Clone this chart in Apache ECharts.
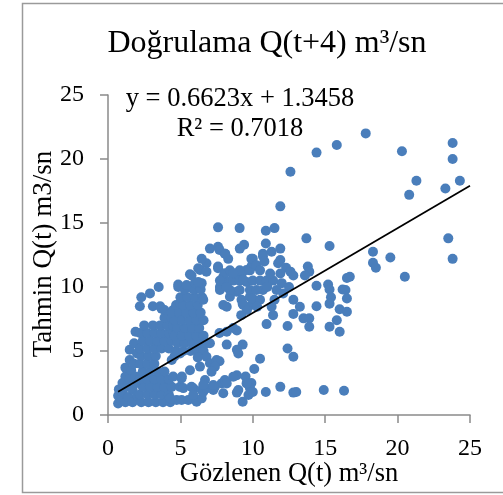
<!DOCTYPE html>
<html>
<head>
<meta charset="utf-8">
<script src="https://cdn.jsdelivr.net/npm/echarts@6/dist/echarts.min.js"></script>
<style>
  html, body { margin: 0; padding: 0; background: #fff; }
  #chart { width: 503px; height: 495px; }
</style>
</head>
<body>
<div id="chart"></div>
<script>
// Observed (x) vs predicted (y) discharge pairs, m³/sn
const lowFlows = [
  [0.7,0.9],[0.7,1.5],[0.75,2.0],[0.9,1.2],[1.0,1.8],[1.0,2.5],[1.2,1.0],[1.2,3.0],[1.2,3.7],[1.3,2.2],
  [1.4,1.4],[1.5,2.8],[1.5,4.3],[1.5,5.1],[1.6,3.5],[1.7,1.0],[1.7,2.0],[1.8,4.0],[1.8,5.6],[1.9,6.5],
  [1.9,3.0],[2.0,1.5],[2.0,4.8],[2.0,2.5],
  [2.3,1.0],[2.8,1.0],[3.3,1.0],[3.8,1.0],[4.3,1.0],
  [2.2,1.6],[2.7,1.6],[3.2,1.6],[3.7,1.6],[4.2,1.6],
  [2.4,2.2],[2.9,2.2],[3.4,2.2],[3.9,2.2],[4.4,2.2],
  [2.2,2.8],[2.7,2.8],[3.2,2.8],[3.7,2.8],[4.2,2.8],
  [2.4,3.4],[2.9,3.4],[3.4,3.4],[3.9,3.4],
  [2.2,4.0],[2.7,4.0],[3.2,4.0],
  [2.3,4.6],[2.8,4.6],[3.3,4.6],[4.6,4.6],
  [2.2,5.2],[2.7,5.2],[3.2,5.2],[3.7,5.2],[4.2,5.2],
  [2.4,5.8],[2.9,5.8],[3.4,5.8],[3.9,5.8],[4.4,5.8],
  [2.2,6.4],[2.7,6.4],[3.2,6.4],[3.7,6.4],[4.2,6.4],
  [2.5,7.0],[3.1,7.0],[3.6,7.0],[4.1,7.0],[3.9,7.6],[4.4,7.6],
  [2.2,8.5],[3.1,8.5],[3.6,8.5],[3.9,8.2],[2.3,9.2],[2.9,9.5],[3.5,10.0],[3.7,8.3],
  [4.5,8.2],[4.85,10.0],[4.85,7.55],[4.5,6.4],[4.97,4.8],[4.74,1.17],[4.4,4.3],[4.97,2.2],
  [4.3,1.3],[4.5,7.0],[4.7,5.0],[4.8,5.6],[4.6,6.2],[4.8,6.8],[4.6,7.4],[4.4,8.0],[4.9,8.0],[4.7,8.6],
  [4.5,3.0],[4.97,8.7],[4.85,10.2]
];
const midFlows = [
  [5.2,5.0],[5.7,5.0],[6.2,5.0],[6.6,5.0],
  [5.3,5.6],[5.8,5.6],[6.3,5.6],[6.8,5.6],
  [5.1,6.2],[5.6,6.2],[6.1,6.2],[6.6,6.2],
  [5.3,6.8],[5.8,6.8],[6.3,6.8],
  [5.1,7.4],[5.6,7.4],[6.1,7.4],[6.6,7.4],
  [5.4,8.0],[5.9,8.0],[6.4,8.0],
  [5.2,8.6],[5.7,8.6],[6.2,8.6],
  [5.0,9.2],[5.5,9.2],[6.0,9.2],[6.5,9.2],
  [5.3,9.8],[5.9,9.8],[6.4,9.8],[6.58,9.0],[5.66,11.0],
  [5.43,10.15],[6.0,10.3],[6.47,10.3],[5.77,10.9],[6.23,10.4],[6.35,11.33],[6.8,11.85],[6.47,12.2],
  [6.23,11.46],[6.8,11.2],[7.6,11.46],[7.96,10.8],[7.04,13.0],[7.6,13.15],[8.07,12.6],[8.3,12.2],
  [7.6,11.6],[8.07,11.07],[7.6,14.66],[9.09,14.6],[7.7,12.9],[8.1,12.6],[9.4,13.3],[9.1,13.0],[9.9,12.2],
  [7.96,8.6],[8.2,8.46],
  [7.73,10.0],[8.2,10.15],[8.53,10.55],[8.88,10.68],[9.22,10.94],[9.57,11.33],[9.9,11.6],[9.57,10.4],
  [8.88,9.63],[8.42,9.24],[9.22,9.0],[9.8,9.24],[9.9,8.6],[9.34,8.6],
  [7.73,10.5],[8.65,10.5],[9.1,10.5],[7.73,9.77],[8.42,9.77],[9.1,9.77],[9.8,9.77],
  [8.42,11.3],[9.1,11.3],[9.8,11.3],[8.65,11.07],[9.34,10.55],[8.19,10.0],
  [7.7,6.4],[8.2,6.5],[8.65,6.8],[8.9,6.6],[8.2,5.5],[9.3,5.5],[8.9,5.1],[9.0,4.8],[7.7,4.2],
  [8.1,2.6],[8.9,3.1],[9.5,3.0],[9.9,2.5],[9.8,2.1],[8.9,1.75],[9.3,1.04],[9.7,1.56],[9.3,8.7],[9.6,8.2],[9.2,7.8],
  [7.04,5.6],[6.8,4.55],[7.04,4.04],[7.5,4.3],[7.38,3.77],[7.15,3.38],[6.7,2.73],
  [5.08,2.86],[5.66,3.5],[5.1,3.0],[5.9,2.08],[6.47,1.95],[5.2,2.1],[5.77,2.2],[5.08,1.17],[5.54,1.17],
  [6.12,1.04],[6.47,1.3],[6.58,1.82],[6.8,2.08],[7.27,1.95],[7.38,2.2],[7.85,2.47],[8.07,2.73],[7.96,1.7],
  [8.2,2.47],[9.57,2.47],[6.2,4.5],[6.35,3.78],[6.58,2.34],[7.27,2.34],[5.89,1.56],[8.65,2.99],[9.0,1.95]
];
const highFlows = [
  [10.0,11.85],[10.0,12.2],[10.26,11.7],[10.7,12.6],[11.3,12.76],[11.9,12.1],[11.75,11.85],[10.7,12.4],
  [10.8,12.0],[12.3,11.5],[12.6,11.2],[12.8,10.9],[13.8,11.6],[13.9,11.2],[13.6,10.9],
  [10.0,10.5],[10.5,10.5],[10.95,10.5],[11.4,10.5],[10.7,9.77],[10.5,11.3],[11.2,11.06],[11.9,11.06],
  [12.0,10.3],[12.5,10.0],[11.0,10.0],[11.64,9.77],[12.1,9.5],[10.26,9.77],
  [10.9,13.4],[11.9,13.0],[10.9,14.4],[11.5,14.6],[13.7,13.8],[15.3,13.2],[11.9,16.3],[12.6,19.0],
  [14.4,20.5],[15.8,21.1],
  [15.2,10.2],[15.3,9.8],[15.4,9.2],[15.3,8.7],[16.2,9.8],[16.5,9.1],[14.4,10.1],[16.0,8.26],[16.5,8.07],
  [15.8,7.4],[16.0,6.5],[15.3,6.9],[14.4,8.5],[12.8,9.0],[13.25,8.46],[12.8,7.9],[13.5,7.55],[13.9,7.55],
  [13.9,6.9],[12.4,6.95],[11.4,7.8],[10.95,7.1],[10.0,9.1],[10.5,9.0],[10.3,8.46],[11.5,9.0],[11.3,8.46],
  [16.5,10.7],[16.7,10.8],[16.4,9.77],
  [12.4,5.2],[12.8,4.55],[10.5,4.4],[10.1,3.6],[10.0,1.8],[10.9,1.8],[11.9,2.2],[12.8,1.75],[13.0,1.8],
  [14.9,1.95],[16.3,1.9],
  [17.8,22.0],[20.3,20.6],[23.8,21.25],[23.8,20.0],[21.3,18.3],[20.8,17.2],[23.3,17.7],[24.3,18.3],
  [23.5,13.8],[23.8,12.2],[18.3,12.76],[18.3,11.9],[18.5,11.5],[19.5,12.3],[20.5,10.8]
];

// Linear fit reported for the validation set
const trendSlope = 0.6623;
const trendIntercept = 1.3458;
const trendR2 = 0.7018;
const trendRange = [0.7, 25];

const axisTicks = [0, 5, 10, 15, 20, 25];

const serif = "'Liberation Serif', 'Times New Roman', serif";
const axisGray = '#8a8a8a';
const pointBlue = '#4a7ebb';

const chart = echarts.init(document.getElementById('chart'), null, { renderer: 'canvas' });

const trendData = trendRange.map(x => [x, trendSlope * x + trendIntercept]);

function valueAxis() {
  return {
    type: 'value',
    min: axisTicks[0],
    max: axisTicks[axisTicks.length - 1],
    interval: axisTicks[1] - axisTicks[0],
    axisLine: { show: true, onZero: false, lineStyle: { color: axisGray, width: 1.5 } },
    axisTick: { show: true, length: 8, lineStyle: { color: axisGray, width: 1.5 } },
    splitLine: { show: false },
    axisLabel: { fontFamily: serif, fontSize: 24, color: '#000' }
  };
}

const xAxis = valueAxis();
xAxis.axisLabel.margin = 22;
const yAxis = valueAxis();
yAxis.axisLabel.margin = 24;

const pointSeries = (name, data) => ({
  name,
  type: 'scatter',
  data,
  symbol: 'circle',
  symbolSize: 10,
  itemStyle: { color: pointBlue, opacity: 1, borderWidth: 0 },
  emphasis: { disabled: true },
  z: 2
});

chart.setOption({
  animation: false,
  grid: { left: 108, right: 33, top: 95, bottom: 80 },
  xAxis,
  yAxis,
  series: [
    pointSeries('low', lowFlows),
    pointSeries('mid', midFlows),
    pointSeries('high', highFlows),
    {
      name: 'trend',
      type: 'line',
      data: trendData,
      showSymbol: false,
      lineStyle: { color: '#000', width: 1.75 },
      z: 5
    }
  ],
  graphic: [
    {
      type: 'rect',
      shape: { x: 22.5, y: 3.5, width: 500, height: 489 },
      style: { fill: 'none', stroke: '#9a9a9a', lineWidth: 1.5 },
      silent: true
    },
    {
      type: 'text', x: 267, y: 43.5,
      style: { text: 'Doğrulama Q(t+4) m³/sn', font: "32px " + serif, fill: '#000', align: 'center', verticalAlign: 'middle' }
    },
    {
      type: 'text', x: 240, y: 99,
      style: {
        text: 'y = ' + trendSlope.toFixed(4) + 'x + ' + trendIntercept.toFixed(4),
        font: "26.5px " + serif, fill: '#000', align: 'center', verticalAlign: 'middle'
      }
    },
    {
      type: 'text', x: 240, y: 129,
      style: {
        text: 'R² = ' + trendR2.toFixed(4),
        font: "26.5px " + serif, fill: '#000', align: 'center', verticalAlign: 'middle'
      }
    },
    {
      type: 'text', x: 289, y: 474,
      style: { text: 'Gözlenen Q(t) m³/sn', font: "26.5px " + serif, fill: '#000', align: 'center', verticalAlign: 'middle' }
    },
    {
      type: 'text', x: 44, y: 254, rotation: Math.PI / 2,
      style: { text: 'Tahmin Q(t) m3/sn', font: "27px " + serif, fill: '#000', align: 'center', verticalAlign: 'middle' }
    }
  ]
});
</script>
</body>
</html>
